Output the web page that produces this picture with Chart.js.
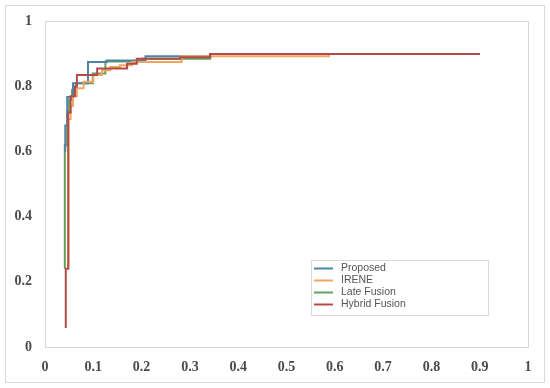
<!DOCTYPE html>
<html>
<head>
<meta charset="utf-8">
<script src="https://cdn.jsdelivr.net/npm/chart.js@4"></script>
<style>
  html, body { margin: 0; padding: 0; background: #ffffff; }
  #wrap { width: 550px; height: 388px; position: relative; }
</style>
</head>
<body>
<div id="wrap"><canvas id="rocChart"></canvas></div>
<script>
// ROC curves (x = false positive rate, y = true positive rate)
const seriesNames = ["Proposed", "IRENE", "Late Fusion", "Hybrid Fusion"];
const seriesColors = ["#4a86a3", "#f2a65e", "#62a05c", "#b34a4a"];

const proposedX = [0.042, 0.042, 0.046, 0.058, 0.089, 0.128, 0.208, 0.342, 0.90];
const proposedY = [0.60, 0.68, 0.768, 0.81, 0.875, 0.88, 0.893, 0.90, 0.90];

const ireneX = [0.049, 0.049, 0.053, 0.058, 0.066, 0.08, 0.10, 0.118, 0.135, 0.155, 0.18, 0.283, 0.588];
const ireneY = [0.24, 0.70, 0.74, 0.77, 0.795, 0.815, 0.835, 0.85, 0.86, 0.865, 0.875, 0.893, 0.897];

const lateX = [0.041, 0.041, 0.046, 0.050, 0.056, 0.064, 0.099, 0.125, 0.20, 0.342, 0.90];
const lateY = [0.24, 0.62, 0.72, 0.76, 0.79, 0.81, 0.84, 0.877, 0.885, 0.90, 0.90];

const hybridX = [0.043, 0.043, 0.048, 0.053, 0.062, 0.066, 0.108, 0.17, 0.19, 0.28, 0.342, 0.90];
const hybridY = [0.058, 0.24, 0.72, 0.77, 0.80, 0.835, 0.855, 0.87, 0.885, 0.89, 0.90, 0.90];

const xTickLabels = ["0", "0.1", "0.2", "0.3", "0.4", "0.5", "0.6", "0.7", "0.8", "0.9", "1"];
const yTickLabels = ["0", "0.2", "0.4", "0.6", "0.8", "1"];

function toPoints(xs, ys) {
  return xs.map((x, i) => ({ x: x, y: ys[i] }));
}

const allX = [proposedX, ireneX, lateX, hybridX];
const allY = [proposedY, ireneY, lateY, hybridY];
const drawOrder = [3, 2, 4, 1]; // lower draws on top

const datasets = seriesNames.map((name, i) => ({
  label: name,
  data: toPoints(allX[i], allY[i]),
  borderColor: seriesColors[i],
  backgroundColor: seriesColors[i],
  borderWidth: 2,
  pointRadius: 0,
  stepped: true,
  fill: false,
  order: drawOrder[i]
}));

// frame around the whole chart and around the plot area
const framePlugin = {
  id: 'frames',
  beforeDraw(chart) {
    const ctx = chart.ctx;
    const a = chart.chartArea;
    ctx.save();
    ctx.strokeStyle = '#dadada';
    ctx.lineWidth = 1;
    ctx.strokeRect(5.5, 5.5, chart.width - 11, chart.height - 11);
    ctx.strokeStyle = '#d3d6dc';
    ctx.strokeRect(Math.round(a.left) + 0.5, Math.round(a.top) + 0.5,
      Math.round(a.right - a.left), Math.round(a.bottom - a.top));
    ctx.restore();
  }
};

// boxed legend sitting inside the plot, lower right
const boxLegendPlugin = {
  id: 'boxLegend',
  afterDraw(chart) {
    const ctx = chart.ctx;
    const bx = 311, by = 260, bw = 177, bh = 55;
    ctx.save();
    ctx.fillStyle = '#ffffff';
    ctx.fillRect(bx, by, bw, bh);
    ctx.strokeStyle = '#d9d9d9';
    ctx.lineWidth = 1;
    ctx.strokeRect(bx + 0.5, by + 0.5, bw, bh);
    ctx.font = '10.5px "Liberation Sans", Arial, sans-serif';
    ctx.textBaseline = 'middle';
    seriesNames.forEach((name, i) => {
      const y = by + 8.5 + i * 12;
      ctx.strokeStyle = seriesColors[i];
      ctx.lineWidth = 2;
      ctx.beginPath();
      ctx.moveTo(314, y);
      ctx.lineTo(333, y);
      ctx.stroke();
      ctx.fillStyle = '#555555';
      ctx.fillText(name, 341, y);
    });
    ctx.restore();
  }
};

const tickFont = { family: '"Liberation Serif", "DejaVu Serif", serif', size: 14, weight: 'bold' };

new Chart(document.getElementById('rocChart'), {
  type: 'line',
  data: { datasets: datasets },
  options: {
    responsive: true,
    maintainAspectRatio: false,
    animation: false,
    parsing: true,
    layout: { padding: { left: 0, right: 22, top: 20, bottom: 0 } },
    plugins: {
      legend: { display: false },
      tooltip: { enabled: false }
    },
    scales: {
      x: {
        type: 'linear',
        min: 0,
        max: 1,
        grid: { display: false, drawTicks: false },
        border: { display: false },
        ticks: {
          stepSize: 0.1,
          padding: 12,
          color: '#4a4a4a',
          font: tickFont,
          maxRotation: 0,
          autoSkip: false,
          callback: (v, idx) => xTickLabels[idx]
        },
        afterFit(scale) { scale.height = 41; }
      },
      y: {
        type: 'linear',
        min: 0,
        max: 1,
        grid: { display: false, drawTicks: false },
        border: { display: false },
        ticks: {
          stepSize: 0.2,
          padding: 13,
          color: '#4a4a4a',
          font: tickFont,
          callback: (v, idx) => yTickLabels[idx]
        },
        afterFit(scale) { scale.width = 45; }
      }
    }
  },
  plugins: [framePlugin, boxLegendPlugin]
});
</script>
</body>
</html>
